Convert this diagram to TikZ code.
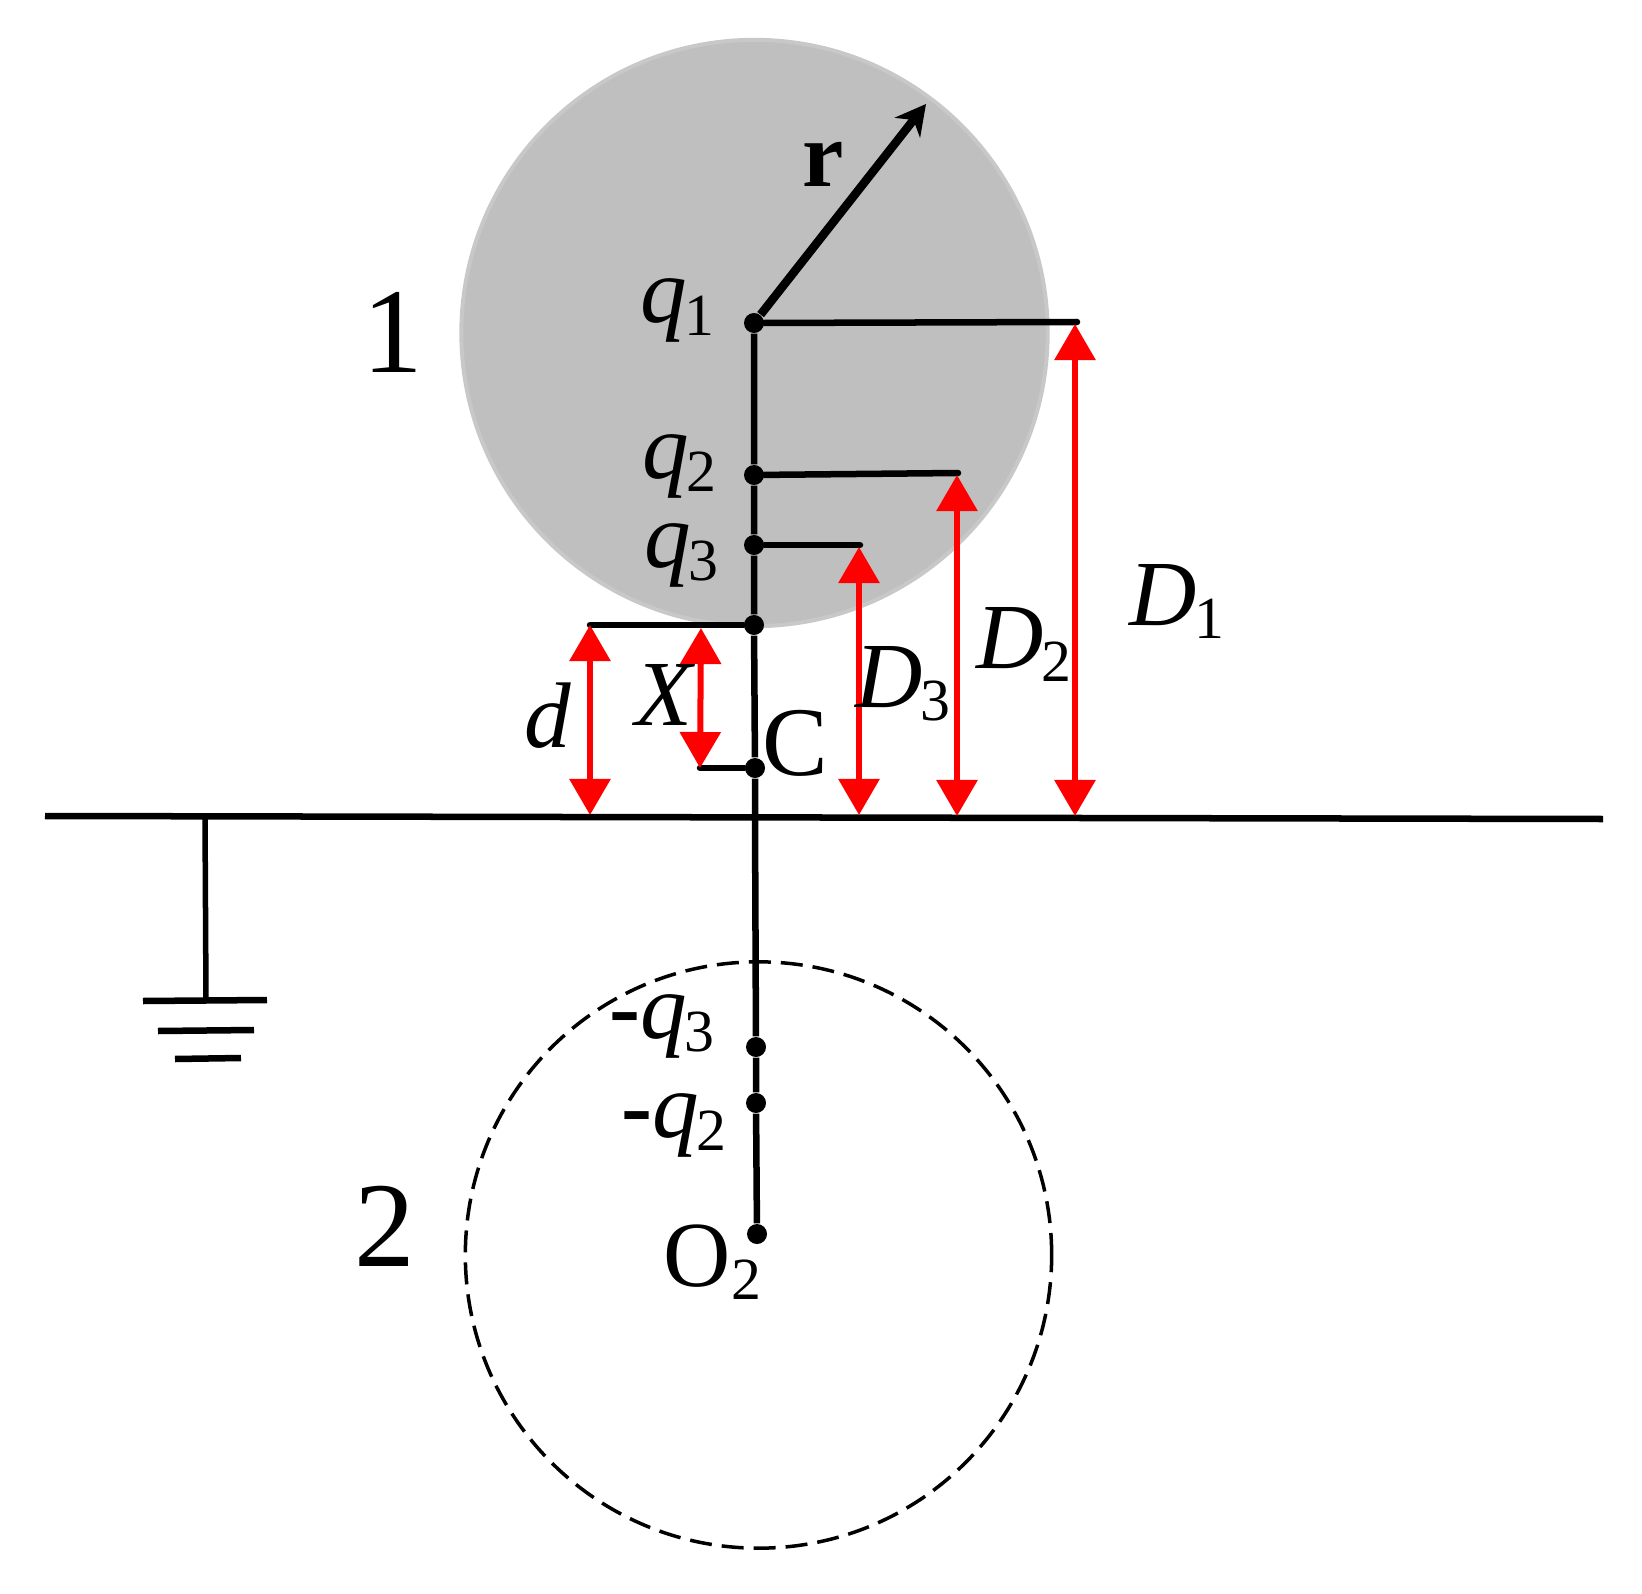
\documentclass[tikz,border=0pt]{standalone}
\usepackage{fontspec}
\setmainfont{Liberation Serif}
\usepackage{tikz}
\usetikzlibrary{arrows.meta,positioning}
\definecolor{spheregray}{RGB}{191,191,191}
\definecolor{sphereedge}{RGB}{200,200,200}
\definecolor{gaugered}{RGB}{255,0,0}
\newcommand{\sublab}[2]{\textit{#1}\kern-0.03cm\raisebox{-0.13cm}{\fontsize{17}{17}\selectfont #2}}
\tikzset{
    chargedot/.style={circle, fill=black, inner sep=0pt, minimum size=0.2cm},
    wire/.style={line width=0.065cm, black},
    gauge/.style={line width=0.06cm, gaugered, {Triangle[length=0.36cm,width=0.4cm]}-{Triangle[length=0.36cm,width=0.4cm]}},
    lab/.style={anchor=base west, inner sep=0pt, font=\fontsize{26.5}{26.5}\selectfont},
    biglab/.style={anchor=base west, inner sep=0pt, font=\fontsize{34.5}{34.5}\selectfont}
}

\begin{document}
\begin{tikzpicture}[x=0.01cm, y=-0.01cm]
    \useasboundingbox (0,0) rectangle (1642,1594);

    \node[circle, fill=spheregray, draw=sphereedge, line width=0.04cm, inner sep=0pt, minimum size=5.86cm] (sphereone) at (754.5,333) {};
    \node[circle, draw=black, line width=0.035cm, dash pattern=on 0.22cm off 0.1cm, inner sep=0pt, minimum size=5.86cm] (spheretwo) at (758.5,1255) {};

    \node[chargedot] (q1) at (754,323) {};
    \node[chargedot] (q2) at (754,475) {};
    \node[chargedot] (q3) at (754,545) {};
    \node[chargedot] (surf) at (754,625) {};
    \node[chargedot] (c) at (755,768) {};
    \node[chargedot] (mq3) at (756,1047) {};
    \node[chargedot] (mq2) at (756,1103) {};
    \node[chargedot] (o2) at (757,1234) {};

    \coordinate (planeleft) at (45,816);
    \coordinate (planeright) at (1603,819);
    \coordinate (planemid) at (755,817);
    \coordinate (gndtop) at (205,816);
    \coordinate (gndbot) at (206,1000);
    \coordinate (rtip) at (926,104);
    \coordinate (endone) at (1077,322);
    \coordinate (endtwo) at (958,473);
    \coordinate (endthree) at (860,545);
    \coordinate (endd) at (590,625);
    \coordinate (endx) at (700,768);

    % plane and earth
    \draw[wire] (planeleft) -- (planeright);
    \draw[wire, line width=0.055cm] (gndtop) -- (gndbot);
    \draw[wire] (143,1001) -- (267,1000);
    \draw[wire] (158,1031) -- (254,1030);
    \draw[wire] (175,1059) -- (241,1058);

    % centre line
    \draw[wire] (q1) -- (q2) -- (q3) -- (surf) -- (c) -- (planemid) -- (mq3) -- (mq2) -- (o2);
    \draw[wire, line width=0.085cm, -{Stealth[length=0.3cm,width=0.32cm]}] (q1) -- (rtip);
    \draw[wire, line cap=round] (q1) -- (endone);
    \draw[wire, line cap=round] (q2) -- (endtwo);
    \draw[wire, line cap=round] (q3) -- (endthree);
    \draw[wire, line cap=round] (surf) -- (endd);
    \draw[wire, line cap=round] (c) -- (endx);

    \draw[gauge] (endd) -- (590,815);
    \draw[gauge] (701,628) -- (endx);
    \draw[gauge] (859,547) -- (859,815);
    \draw[gauge] (957,475) -- (957,816);
    \draw[gauge] (1075,324) -- (1075,816);

    \node[biglab] (lab1) at (362,373) {1};
    \node[biglab] (lab2) at (354,1266) {2};
    \node[lab, font=\fontsize{26.5}{26.5}\selectfont\bfseries] (labr) at (802,187) {r};
    \node[lab] (labq1) at (640,322) {\sublab{q}{1}};
    \node[lab] (labq2) at (642,478) {\sublab{q}{2}};
    \node[lab] (labq3) at (644,567) {\sublab{q}{3}};
    \node[lab] (labd) at (524,747) {\textit{d}};
    \node[lab] (labx) at (635,725) {\textit{X}};
    \node[lab, font=\fontsize{28}{28}\selectfont] (labc) at (762,775) {C};
    \node[lab] (labd3) at (855,707) {\sublab{D}{3}};
    \node[lab] (labd2) at (976,668) {\sublab{D}{2}};
    \node[lab] (labd1) at (1129,625) {\sublab{D}{1}};
    \node[lab] (labmq3) at (609,1038) {\textbf{-}\sublab{q}{3}};
    \node[lab] (labmq2) at (621,1137) {\textbf{-}\sublab{q}{2}};
    \node[lab] (labo2) at (663,1286) {O\raisebox{-0.13cm}{\fontsize{17}{17}\selectfont 2}};
\end{tikzpicture}
\end{document}
